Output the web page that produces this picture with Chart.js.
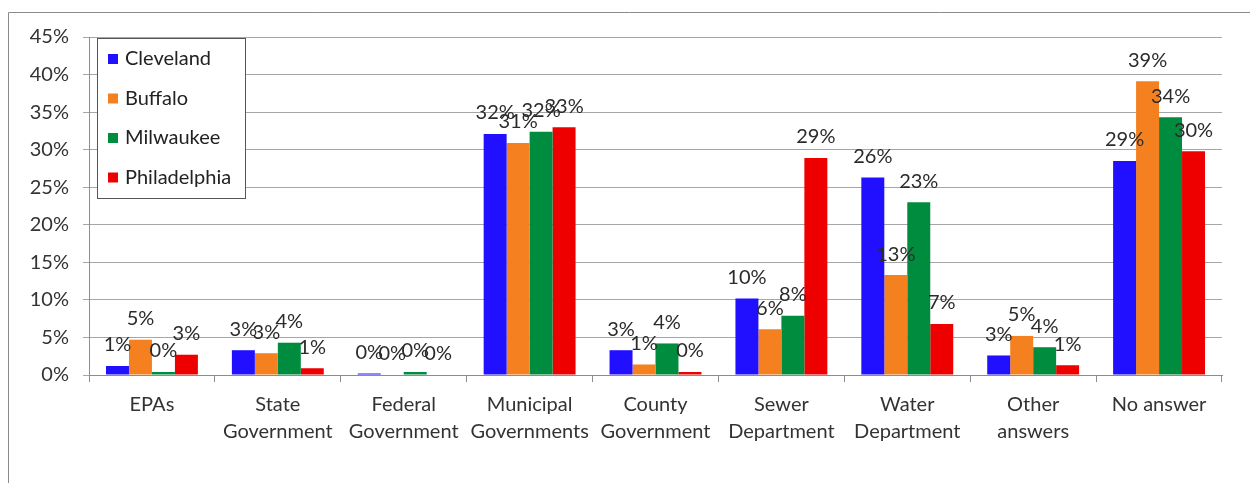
<!DOCTYPE html>
<html>
<head>
<meta charset="utf-8">
<script src="https://cdn.jsdelivr.net/npm/chart.js@4"></script>
<style>
html,body{margin:0;padding:0;background:#fff;}
#wrap{position:relative;width:1250px;height:483px;}
</style>
</head>
<body>
<div id="wrap"><canvas id="chart" width="1250" height="483"></canvas></div>
<script>
const categories = [
"EPAs",
["State","Government"],
["Federal","Government"],
["Municipal","Governments"],
["County","Government"],
["Sewer","Department"],
["Water","Department"],
["Other","answers"],
"No answer"
];

const cleveland    = [1.2, 3.3, 0.2, 32.1, 3.3, 10.2, 26.3, 2.6, 28.5];
const buffalo      = [4.7, 2.9, 0.0, 30.9, 1.4,  6.1, 13.3, 5.2, 39.1];
const milwaukee    = [0.4, 4.3, 0.4, 32.4, 4.2,  7.9, 23.0, 3.7, 34.3];
const philadelphia = [2.7, 0.9, 0.0, 33.0, 0.4, 28.9,  6.8, 1.3, 29.8];

const yTicks = [0,5,10,15,20,25,30,35,40,45];

const FONT = "Lato, 'Open Sans', sans-serif";

/* outer frame like the pasted excel chart */
const framePlugin = {
id:"frame",
beforeDraw(chart){
const c = chart.ctx;
c.save();
c.fillStyle="#fff";
c.fillRect(0,0,chart.width,chart.height);
c.strokeStyle="#8a8a8a";
c.lineWidth=1;
c.beginPath();
c.moveTo(8.5,483);
c.lineTo(8.5,12.5);
c.lineTo(1250,12.5);
c.stroke();
c.restore();
}
};

/* value labels above bars */
const labelPlugin = {
id:"barLabels",
afterDatasetsDraw(chart){
const c = chart.ctx;
c.save();
c.font = "20px "+FONT;
c.fillStyle = "#2b2b2b";
c.textAlign = "center";
c.textBaseline = "middle";
chart.data.datasets.forEach((ds,i)=>{
const meta = chart.getDatasetMeta(i);
meta.data.forEach((bar,j)=>{
c.fillText(Math.round(ds.data[j])+"%", bar.x, bar.y-21);
});
});
c.restore();
}
};

/* boxed legend inside plot */
const legendPlugin = {
id:"boxLegend",
afterDraw(chart){
const c = chart.ctx;
c.save();
c.fillStyle="#fff";
c.fillRect(97,38,148,160);
c.strokeStyle="#555";
c.lineWidth=1;
c.strokeRect(97.5,38.5,148,160);
c.font="20px "+FONT;
c.textBaseline="middle";
c.textAlign="left";
chart.data.datasets.forEach((ds,i)=>{
const y = 59 + i*39.5;
c.fillStyle = ds.backgroundColor;
c.fillRect(108,y-5,10,10);
c.fillStyle="#222";
c.fillText(ds.label,125,y);
});
c.restore();
}
};

const ctx = document.getElementById("chart");

new Chart(ctx,{
type:"bar",
data:{
labels:categories,
datasets:[
{label:"Cleveland",data:cleveland,backgroundColor:"#2010ff"},
{label:"Buffalo",data:buffalo,backgroundColor:"#f4801f"},
{label:"Milwaukee",data:milwaukee,backgroundColor:"#008c3e"},
{label:"Philadelphia",data:philadelphia,backgroundColor:"#ee0000"}
]
},
options:{
responsive:false,
animation:false,
datasets:{
bar:{categoryPercentage:0.73,barPercentage:1.0}
},
layout:{padding:{left:0,right:28,top:37,bottom:0}},
plugins:{
legend:{display:false},
tooltip:{enabled:false}
},
scales:{
y:{
min:0,
max:45,
afterBuildTicks(scale){
scale.ticks = yTicks.map(v=>({value:v}));
},
afterFit(scale){ scale.width = 89; },
ticks:{
color:"#333",
padding:14,
font:{family:FONT,size:20},
callback:v=>v+"%"
},
grid:{color:"#a6a6a6",lineWidth:1,tickLength:6},
border:{color:"#8c8c8c"}
},
x:{
afterFit(scale){ scale.height = 108; },
ticks:{
color:"#333",
padding:9,
maxRotation:0,
autoSkip:false,
font:{family:FONT,size:20,lineHeight:1.35}
},
grid:{drawOnChartArea:false,tickLength:7,color:"#8c8c8c",offset:true},
border:{color:"#8c8c8c"}
}
}
},
plugins:[framePlugin,labelPlugin,legendPlugin]
});
</script>
</body>
</html>
